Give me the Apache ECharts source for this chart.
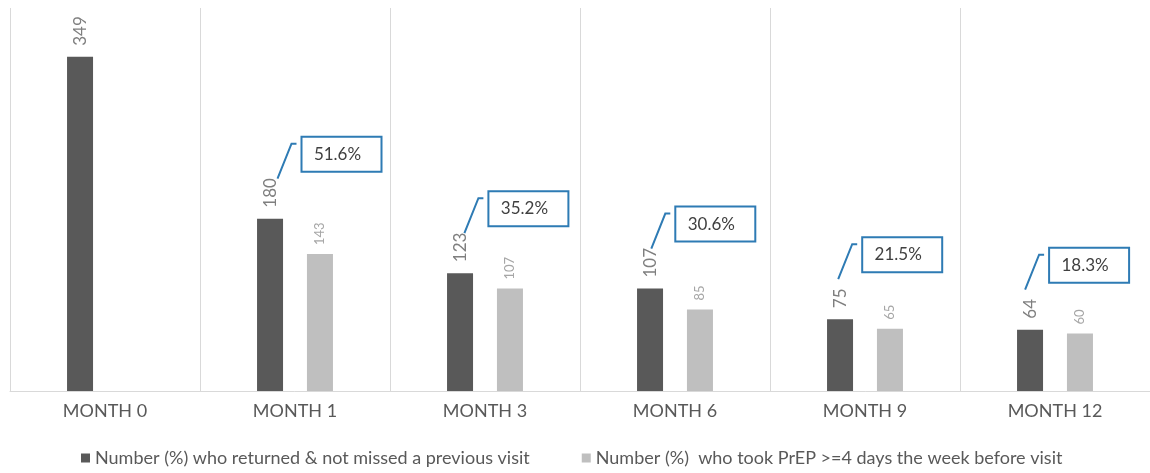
<!DOCTYPE html>
<html>
<head>
<meta charset="utf-8">
<script src="https://cdn.jsdelivr.net/npm/echarts@6/dist/echarts.min.js"></script>
<style>
html,body{margin:0;padding:0;background:#fff;}
#chart{width:1150px;height:473px;}
</style>
</head>
<body>
<div id="chart"></div>
<script>
const categories = ['MONTH 0', 'MONTH 1', 'MONTH 3', 'MONTH 6', 'MONTH 9', 'MONTH 12'];
const seriesNames = ['Number (%) who returned & not missed a previous visit', 'Number (%)  who took PrEP >=4 days the week before visit'];
const returnedValues = [349, 180, 123, 107, 75, 64];
const prepValues = [null, 143, 107, 85, 65, 60];
const prepPercents = [null, '51.6%', '35.2%', '30.6%', '21.5%', '18.3%'];

const FONT = 'Lato, "Open Sans", sans-serif';
const DARK = '#595959';
const LIGHT = '#bfbfbf';
const BAR_W = 26;
const BAR_OFFSET = 25;

const calloutData = [];
prepPercents.forEach(function (p, i) {
  if (p !== null) calloutData.push([i, returnedValues[i]]);
});

const chart = echarts.init(document.getElementById('chart'));
chart.setOption({
  animation: false,
  backgroundColor: '#ffffff',
  grid: { left: 10, right: -7, top: 8, bottom: 82, containLabel: false },
  xAxis: {
    type: 'category',
    data: categories,
    axisLine: { lineStyle: { color: '#d9d9d9', width: 1 } },
    axisTick: { show: false },
    splitLine: { show: true, lineStyle: { color: '#d9d9d9', width: 1 } },
    axisLabel: { color: DARK, fontFamily: FONT, fontSize: 18, margin: 11 }
  },
  yAxis: { type: 'value', min: 0, max: 400, show: false, splitLine: { show: false } },
  legend: {
    bottom: 1,
    left: 76,
    icon: 'rect',
    itemWidth: 9,
    itemHeight: 9,
    itemGap: 52,
    textStyle: { color: DARK, fontFamily: FONT, fontSize: 18 },
    data: seriesNames
  },
  series: [
    {
      name: seriesNames[0],
      type: 'bar',
      data: returnedValues,
      barWidth: BAR_W,
      barGap: '92%',
      itemStyle: { color: DARK },
      label: {
        show: true, position: 'top', rotate: 90, align: 'left', verticalAlign: 'middle',
        distance: 11, color: '#7f7f7f', fontFamily: FONT, fontSize: 17
      }
    },
    {
      name: seriesNames[1],
      type: 'bar',
      data: prepValues,
      barWidth: BAR_W,
      itemStyle: { color: LIGHT },
      label: {
        show: true, position: 'top', rotate: 90, align: 'left', verticalAlign: 'middle',
        distance: 9, color: '#a6a6a6', fontFamily: FONT, fontSize: 13
      }
    },
    {
      type: 'custom',
      name: 'callouts',
      data: calloutData,
      silent: true,
      z: 10,
      clip: false,
      renderItem: function (params, api) {
        const idx = api.value(0);
        const pt = api.coord([idx, api.value(1)]);
        const barCx = pt[0] - BAR_OFFSET;
        const barTop = pt[1];
        const boxL = barCx + 31.5 - 3.1 * (idx - 1);
        const boxT = barTop - 82;
        const boxW = 80, boxH = 35;
        return {
          type: 'group',
          children: [
            {
              type: 'polyline',
              shape: { points: [[boxL - 24, boxT + 42], [boxL - 10, boxT + 7], [boxL - 5, boxT + 7]] },
              style: { stroke: '#2e7bb4', lineWidth: 2, fill: null }
            },
            {
              type: 'rect',
              shape: { x: boxL, y: boxT, width: boxW, height: boxH },
              style: { stroke: '#2e7bb4', lineWidth: 2, fill: '#ffffff' }
            },
            {
              type: 'text',
              style: {
                text: prepPercents[idx],
                x: boxL + 36, y: boxT + boxH / 2,
                align: 'center', verticalAlign: 'middle',
                fill: '#404040', font: '17px ' + FONT
              }
            }
          ]
        };
      }
    }
  ]
});
</script>
</body>
</html>
